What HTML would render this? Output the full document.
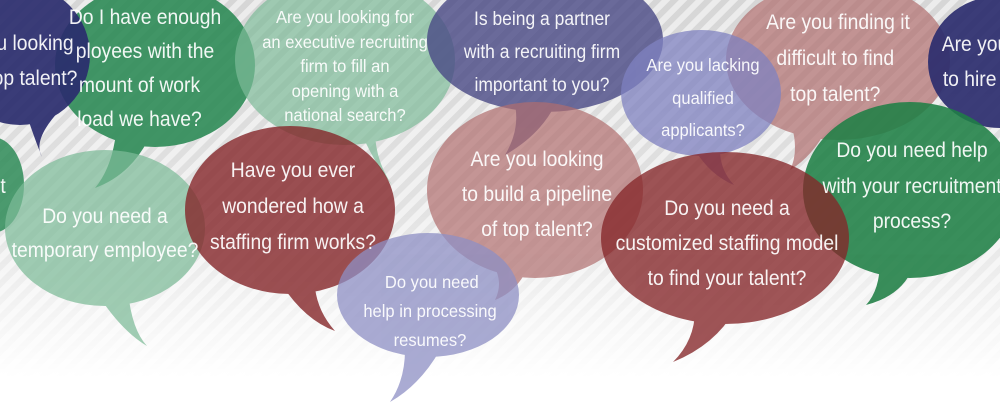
<!DOCTYPE html>
<html><head><meta charset="utf-8"><style>
html,body{margin:0;padding:0;background:#fff}
svg{display:block}
text{font-family:"Liberation Sans Narrow","Liberation Sans",sans-serif;fill:#fff;text-anchor:middle;fill-opacity:.93}
</style></head><body>
<svg width="1000" height="420" viewBox="0 0 1000 420" xmlns="http://www.w3.org/2000/svg">
<defs>
<pattern id="st" width="12" height="12" patternUnits="userSpaceOnUse" patternTransform="rotate(45)">
<rect width="12" height="12" fill="#d6d6d6"/><rect width="6" height="12" fill="#ececec"/>
</pattern>
<linearGradient id="fade" x1="0" y1="0" x2="0" y2="1">
<stop offset="0" stop-color="#fff" stop-opacity="0"/>
<stop offset="0.5" stop-color="#fff" stop-opacity="0.3"/>
<stop offset="0.9" stop-color="#fff" stop-opacity="1"/>
<stop offset="1" stop-color="#fff" stop-opacity="1"/>
</linearGradient>
</defs>
<rect width="1000" height="420" fill="url(#st)"/>
<rect width="1000" height="420" fill="url(#fade)"/>

<g opacity=".85" fill="#2e8b57"><ellipse cx="-8" cy="185" rx="32" ry="48"/></g>
<g opacity=".9" fill="#2e8b57">
<ellipse cx="155" cy="65" rx="100" ry="82"/>
<path d="M115,140 Q110,170 95,188 Q130,175 148,140 Z"/>
</g>
<g opacity=".92" fill="#2b2d6e">
<ellipse cx="20" cy="55" rx="70" ry="70"/>
<path d="M25,110 Q35,140 42,157 Q32,140 60,110 Z"/>
</g>
<g opacity=".7" fill="#7dbb98">
<ellipse cx="345" cy="60" rx="110" ry="85"/>
<path d="M360,130 Q375,165 392,185 Q375,160 375,130 Z"/>
</g>
<g opacity=".72" fill="#7dbb98">
<ellipse cx="105" cy="228" rx="100" ry="78"/>
<path d="M95,290 Q120,330 147,346 Q132,330 128,292 Z"/>
</g>
<g opacity=".8" fill="#852629">
<ellipse cx="290" cy="210" rx="105" ry="84"/>
<path d="M282,285 Q305,320 335,331 Q318,312 315,288 Z"/>
</g>
<g opacity=".8" fill="#4a4a86">
<ellipse cx="545" cy="40" rx="118" ry="72"/>
<path d="M515,105 Q520,130 505,155 Q540,135 555,105 Z"/>
</g>
<g opacity=".7" fill="#b06e6e">
<ellipse cx="535" cy="190" rx="108" ry="88"/>
<path d="M490,260 Q505,280 495,300 Q520,290 530,262 Z"/>
</g>
<g opacity=".75" fill="#8d8fc4">
<ellipse cx="428" cy="295" rx="91" ry="62"/>
<path d="M405,350 Q405,380 390,402 Q420,385 440,350 Z"/>
</g>
<g opacity=".7" fill="#b06e6e">
<ellipse cx="838" cy="60" rx="112" ry="80"/>
<path d="M790,120 Q800,150 790,170 Q815,155 830,122 Z"/>
</g>
<g opacity=".75" fill="#7f81c0">
<ellipse cx="701" cy="93" rx="80" ry="63"/>
<path d="M695,150 Q710,175 734,185 Q720,170 720,150 Z"/>
</g>
<g opacity=".92" fill="#2b2d6e"><ellipse cx="1000" cy="62" rx="72" ry="66"/></g>
<g opacity=".88" fill="#1f7f45">
<ellipse cx="910" cy="190" rx="107" ry="88"/>
<path d="M880,260 Q880,290 866,305 Q905,295 915,262 Z"/>
</g>
<g opacity=".78" fill="#852629">
<ellipse cx="725" cy="238" rx="124" ry="86"/>
<path d="M695,310 Q695,340 673,362 Q715,345 735,310 Z"/>
</g>

<g transform="translate(35,0) scale(.92,1)"><text font-size="21" y="50">u looking</text><text font-size="21" y="85">op talent?</text></g>
<g transform="translate(145,0) scale(.92,1)">
<text font-size="21" y="24">Do I have enough</text>
<text font-size="21" y="58">ployees with the</text>
<text font-size="21" x="-6" y="92">mount of work</text>
<text font-size="21" x="-6" y="126">load we have?</text></g>
<g transform="translate(3,0) scale(.92,1)"><text font-size="21" y="193">t</text></g>
<g transform="translate(105,0) scale(.92,1)">
<text font-size="21" y="223">Do you need a</text>
<text font-size="21" y="257">temporary employee?</text></g>
<g transform="translate(345,0) scale(.92,1)">
<text font-size="18" y="23">Are you looking for</text>
<text font-size="18" y="48">an executive recruiting</text>
<text font-size="18" y="72">firm to fill an</text>
<text font-size="18" y="97">opening with a</text>
<text font-size="18" y="121">national search?</text></g>
<g transform="translate(293,0) scale(.92,1)">
<text font-size="21" y="177">Have you ever</text>
<text font-size="21" y="213">wondered how a</text>
<text font-size="21" y="249">staffing firm works?</text></g>
<g transform="translate(430,0) scale(.92,1)">
<text font-size="18" x="2" y="288">Do you need</text>
<text font-size="18" y="317">help in processing</text>
<text font-size="18" y="346">resumes?</text></g>
<g transform="translate(542,0) scale(.92,1)">
<text font-size="19" y="25">Is being a partner</text>
<text font-size="19" y="58">with a recruiting firm</text>
<text font-size="19" y="91">important to you?</text></g>
<g transform="translate(537,0) scale(.92,1)">
<text font-size="21" y="166">Are you looking</text>
<text font-size="21" y="201">to build a pipeline</text>
<text font-size="21" y="236">of top talent?</text></g>
<g transform="translate(703,0) scale(.92,1)">
<text font-size="18" y="71">Are you lacking</text>
<text font-size="18" y="104">qualified</text>
<text font-size="18" y="136">applicants?</text></g>
<g transform="translate(838,0) scale(.92,1)">
<text font-size="21" y="29">Are you finding it</text>
<text font-size="21" x="-3" y="65">difficult to find</text>
<text font-size="21" x="-3" y="101">top talent?</text></g>
<g transform="translate(975,0) scale(.92,1)">
<text font-size="21" y="51">Are you</text>
<text font-size="21" y="86">to hire t</text></g>
<g transform="translate(912,0) scale(.92,1)">
<text font-size="21" y="157">Do you need help</text>
<text font-size="21" y="193">with your recruitment</text>
<text font-size="21" y="228">process?</text></g>
<g transform="translate(727,0) scale(.92,1)">
<text font-size="21" y="215">Do you need a</text>
<text font-size="21" y="250">customized staffing model</text>
<text font-size="21" y="285">to find your talent?</text></g>
</svg>
</body></html>
